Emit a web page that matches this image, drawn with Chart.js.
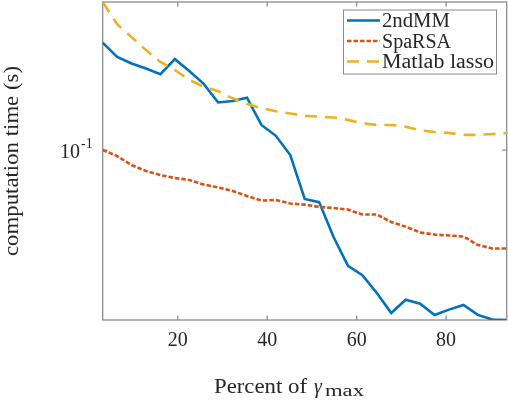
<!DOCTYPE html>
<html>
<head>
<meta charset="utf-8">
<script src="https://cdn.jsdelivr.net/npm/chart.js@4/dist/chart.umd.min.js"></script>
<style>
  html, body { margin: 0; padding: 0; background: #fff; }
</style>
</head>
<body>
<canvas id="myChart" width="508" height="400"></canvas>
<script>
// Percent of gamma_max (x positions of the samples)
const percentGamma = [3.226, 6.452, 9.677, 12.903, 16.129, 19.355, 22.581, 25.806, 29.032, 32.258,
  35.484, 38.710, 41.935, 45.161, 48.387, 51.613, 54.839, 58.065, 61.290, 64.516,
  67.742, 70.968, 74.194, 77.419, 80.645, 83.871, 87.097, 90.323, 93.548];

// computation time (s)
const time2ndMM = [0.269, 0.236, 0.222, 0.212, 0.201, 0.231, 0.207, 0.184, 0.155, 0.157,
  0.162, 0.126, 0.114, 0.0955, 0.0637, 0.0619, 0.0449, 0.0344, 0.0316, 0.0268,
  0.0223, 0.0252, 0.0243, 0.0219, 0.0230, 0.0240, 0.0219, 0.0210, 0.0209];
const timeSpaRSA = [0.100, 0.0946, 0.0871, 0.0824, 0.0794, 0.0773, 0.0759, 0.0728, 0.0708, 0.0686,
  0.0655, 0.0628, 0.0631, 0.0611, 0.0605, 0.0592, 0.0586, 0.0578, 0.0552, 0.0552,
  0.0515, 0.0494, 0.0468, 0.0459, 0.0455, 0.0451, 0.0417, 0.0404, 0.0404];
const timeLasso = [0.391, 0.319, 0.283, 0.251, 0.225, 0.209, 0.191, 0.179, 0.172, 0.161,
  0.153, 0.147, 0.143, 0.140, 0.137, 0.136, 0.135, 0.132, 0.128, 0.126,
  0.126, 0.124, 0.120, 0.118, 0.117, 0.115, 0.115, 0.116, 0.117];

const seriesNames = ['2ndMM', 'SpaRSA', 'Matlab lasso'];
const xTickValues = [20, 40, 60, 80];
const yTickValues = [0.1];

const FONT = 'Liberation Serif';
const TEXT = '#262626';
const AXIS = '#8c8c8c';
const styles = [
  { color: '#0072BD', dash: [] },
  { color: '#D95319', dash: [4.5, 2] },
  { color: '#EDB120', dash: [12, 8] }
];

function toPoints(ys) {
  return percentGamma.map((x, i) => ({ x: x, y: ys[i] }));
}

// draw text squeezed/stretched to a given width (LaTeX font is wider than Times)
function fitText(ctx, str, x, y, w) {
  const m = ctx.measureText(str).width;
  ctx.save();
  ctx.translate(x, y);
  ctx.scale(w / m, 1);
  ctx.fillText(str, 0, 0);
  ctx.restore();
}

const matlabAxes = {
  id: 'matlabAxes',
  beforeDatasetsDraw(chart) {
    const { ctx, chartArea: a, scales } = chart;
    ctx.save();
    ctx.strokeStyle = AXIS;
    ctx.lineWidth = 1.3;
    ctx.strokeRect(a.left, a.top, a.right - a.left, a.bottom - a.top);
    ctx.beginPath();
    xTickValues.forEach(v => {
      const px = scales.x.getPixelForValue(v);
      ctx.moveTo(px, a.bottom); ctx.lineTo(px, a.bottom - 4.5);
      ctx.moveTo(px, a.top); ctx.lineTo(px, a.top + 4.5);
    });
    yTickValues.forEach(v => {
      const py = scales.y.getPixelForValue(v);
      ctx.moveTo(a.left, py); ctx.lineTo(a.left + 4.5, py);
      ctx.moveTo(a.right, py); ctx.lineTo(a.right - 4.5, py);
    });
    ctx.stroke();
    ctx.restore();
  },
  afterDraw(chart) {
    const { ctx, chartArea: a, scales } = chart;
    ctx.save();
    ctx.fillStyle = TEXT;
    ctx.textBaseline = 'alphabetic';

    // y tick label 10^-1
    yTickValues.forEach(v => {
      const py = scales.y.getPixelForValue(v);
      ctx.textAlign = 'left';
      ctx.font = '20px "' + FONT + '"';
      ctx.fillText('10', 60, py + 7.5);
      ctx.font = '14px "' + FONT + '"';
      ctx.fillText('-1', 81, py - 2);
    });

    // y axis title
    ctx.save();
    ctx.translate(18, (a.top + a.bottom) / 2);
    ctx.rotate(-Math.PI / 2);
    ctx.textAlign = 'center';
    ctx.font = '20px "' + FONT + '"';
    fitText(ctx, 'computation time (s)', 0, 0, 190);
    ctx.restore();

    // x axis title: Percent of gamma_max
    ctx.textAlign = 'left';
    ctx.font = '20px "' + FONT + '"';
    fitText(ctx, 'Percent of', 214, 393, 93);
    ctx.font = 'italic 20px "' + FONT + '"';
    ctx.fillText('γ', 314, 393);
    ctx.font = '16px "' + FONT + '"';
    fitText(ctx, 'max', 325, 396, 39);

    // legend
    const box = { l: 343.5, t: 10, r: 496.5, b: 74 };
    ctx.fillStyle = '#fff';
    ctx.fillRect(box.l, box.t, box.r - box.l, box.b - box.t);
    ctx.strokeStyle = AXIS;
    ctx.lineWidth = 1;
    ctx.strokeRect(box.l, box.t, box.r - box.l, box.b - box.t);
    const rows = [20.5, 41, 61.5];
    const widths = [68, 69, 112];
    seriesNames.forEach((name, i) => {
      ctx.beginPath();
      ctx.strokeStyle = styles[i].color;
      ctx.lineWidth = 2.6;
      ctx.setLineDash(styles[i].dash);
      ctx.moveTo(347, rows[i]);
      ctx.lineTo(380, rows[i]);
      ctx.stroke();
      ctx.setLineDash([]);
      ctx.fillStyle = TEXT;
      ctx.font = '20px "' + FONT + '"';
      fitText(ctx, name, 382, rows[i] + 6.5, widths[i]);
    });
    ctx.restore();
  }
};

const ctx = document.getElementById('myChart');
const allSeries = [time2ndMM, timeSpaRSA, timeLasso];

new Chart(ctx, {
  type: 'line',
  data: {
    datasets: allSeries.map((ys, i) => ({
      label: seriesNames[i],
      data: toPoints(ys),
      borderColor: styles[i].color,
      borderDash: styles[i].dash,
      borderWidth: 2.6,
      pointRadius: 0,
      tension: 0,
      fill: false,
      order: 2 - i
    }))
  },
  options: {
    responsive: false,
    animation: false,
    layout: { padding: { top: 2, right: 1.3, left: 0, bottom: 0 } },
    plugins: { legend: { display: false }, tooltip: { enabled: false } },
    scales: {
      x: {
        type: 'linear',
        min: percentGamma[0],
        max: percentGamma[percentGamma.length - 1],
        grid: { display: false },
        border: { display: false },
        afterBuildTicks(scale) { scale.ticks = xTickValues.map(v => ({ value: v })); },
        afterFit(scale) { scale.height = 80; },
        ticks: {
          autoSkip: false,
          maxRotation: 0,
          padding: 1,
          color: TEXT,
          font: { family: FONT, size: 20 }
        }
      },
      y: {
        type: 'logarithmic',
        min: 0.0209,
        max: 0.391,
        grid: { display: false },
        border: { display: false },
        afterBuildTicks(scale) { scale.ticks = yTickValues.map(v => ({ value: v })); },
        afterFit(scale) { scale.width = 102.7; },
        ticks: { display: false }
      }
    }
  },
  plugins: [matlabAxes]
});
</script>
</body>
</html>
